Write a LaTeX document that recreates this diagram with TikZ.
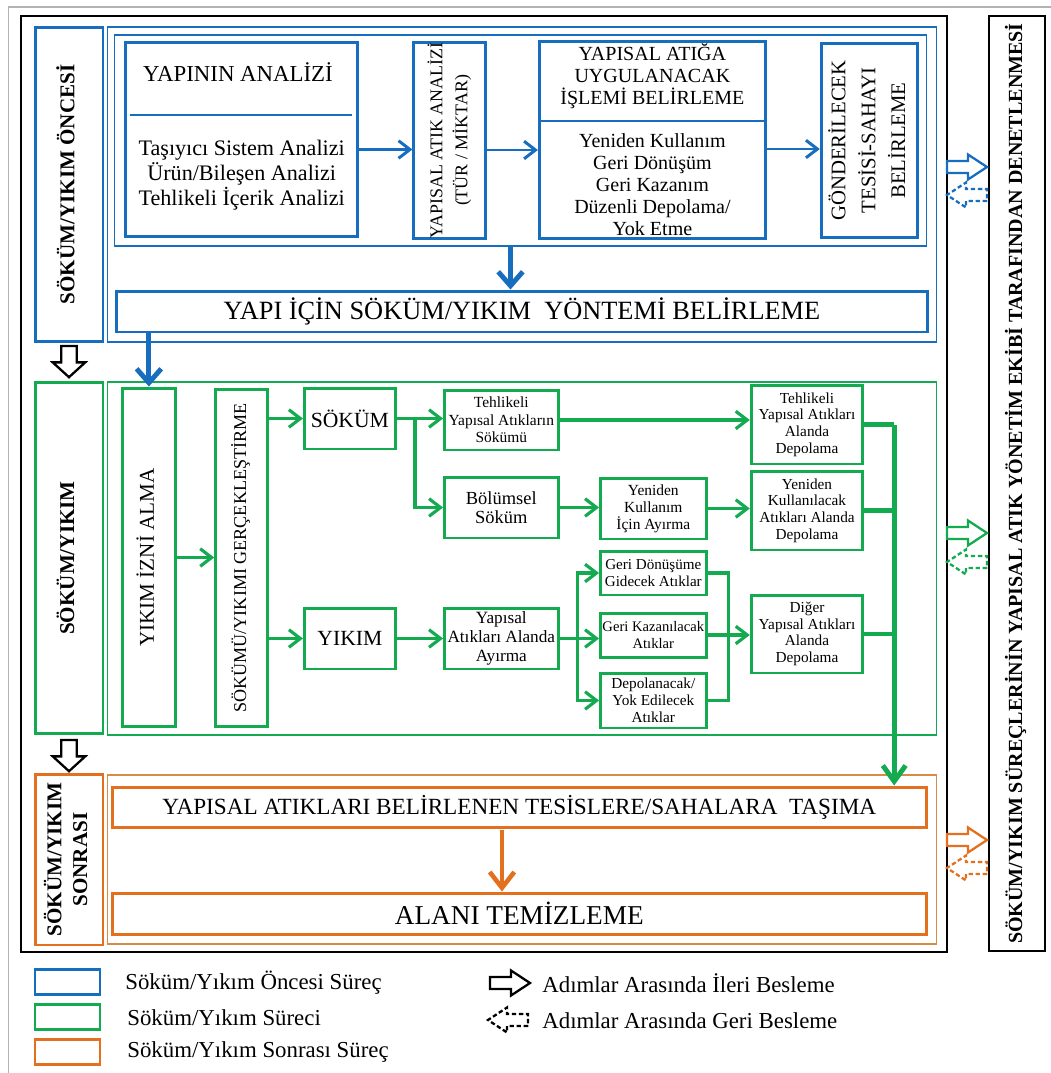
\documentclass[tikz,border=0pt]{standalone}
\usepackage{fontspec}
\setmainfont{Liberation Serif}
\usetikzlibrary{arrows.meta}
\usetikzlibrary{calc}
\usetikzlibrary{positioning}
\definecolor{preblue}{RGB}{24,110,190}
\definecolor{midgreen}{RGB}{20,170,80}
\definecolor{postorange}{RGB}{226,112,30}
\definecolor{postframe}{RGB}{214,140,70}
\tikzset{box/.style={draw,line width=1.7pt,inner sep=0pt,align=center}}
\tikzset{pre/.style={box,draw=preblue}}
\tikzset{mid/.style={box,draw=midgreen}}
\tikzset{post/.style={box,draw=postorange}}
\tikzset{barrow/.style={preblue,line width=1.7pt,-{Straight Barb[length=6.5pt,width=10pt]}}}
\tikzset{bbig/.style={preblue,line width=2.8pt,-{Straight Barb[length=8pt,width=14pt]}}}
\tikzset{garrow/.style={midgreen,line width=1.8pt,-{Straight Barb[length=6.5pt,width=10pt]}}}
\tikzset{gline/.style={midgreen,line width=1.8pt}}
\tikzset{gthick/.style={midgreen,line width=2.8pt}}
\tikzset{gbig/.style={midgreen,line width=2.8pt,-{Straight Barb[length=9pt,width=13pt]}}}
\tikzset{oarrow/.style={postorange,line width=2.6pt,-{Straight Barb[length=9pt,width=14pt]}}}
\tikzset{keytext/.style={anchor=west,inner sep=0pt,font=\fontsize{13}{15}\selectfont}}
\tikzset{fback/.style={dash pattern=on 2.5pt off 1.5pt}}
\newcommand{\rottext}[1]{\rotatebox{90}{\begin{tabular}{@{}c@{}}#1\end{tabular}}}
\newcommand{\hollowarrow}[1]{
    \draw[line width=1.3pt,#1] (0,-6) -- (21,-6) -- (21,-12.5) -- (40,0) -- (21,12.5) -- (21,6) -- (0,6) -- cycle;
}

\begin{document}
\begin{tikzpicture}[x=0.02cm,y=-0.02cm]
    \useasboundingbox (0,0) rectangle (1051,1073);
    \draw[gray!60,line width=0.8pt] (1051,7) -- (8.5,7) -- (8.5,1073);
    \draw[line width=1.3pt] (21,16) rectangle (946.7,952);

    % oncesi
    \draw[preblue,line width=0.7pt] (107.5,27) rectangle (936.5,342);
    \draw[preblue,line width=0.7pt] (114.3,35) rectangle (926.4,246);
    \node[pre,minimum width=1.36cm,minimum height=6.3cm,font=\bfseries\fontsize{12}{14}\selectfont] (lblPre) at (69,184.5) {\rottext{SÖKÜM/YIKIM ÖNCESİ}};

    \node[pre,minimum width=4.63cm,minimum height=3.9cm] (analiz) at (241.7,139.5) {};
    \node[font=\fontsize{13}{15}\selectfont] (anaHead) at (238,72) {YAPININ ANALİZİ};
    \draw[preblue,line width=0.8pt] (130,115) -- (351.6,115);
    \node[align=center,font=\fontsize{12.6}{14.2}\selectfont] (anaBody) at (241.7,175)
        {Taşıyıcı Sistem Analizi\\Ürün/Bileşen Analizi\\Tehlikeli İçerik Analizi};

    \node[pre,minimum width=1.44cm,minimum height=3.94cm,font=\fontsize{10.2}{14.2}\selectfont] (atik) at (449.9,140.5)
        {\rottext{YAPISAL ATIK ANALİZİ\\(TÜR / MİKTAR)}};

    \node[pre,minimum width=4.52cm,minimum height=3.96cm] (islem) at (652.4,140) {};
    \node[align=center,font=\fontsize{11.4}{12.7}\selectfont] (islHead) at (652.4,76)
        {YAPISAL ATIĞA\\UYGULANACAK\\İŞLEMİ BELİRLEME};
    \draw[preblue,line width=0.8pt] (539.3,121) -- (765.5,121);
    \node[align=center,font=\fontsize{11.4}{12.5}\selectfont] (islBody) at (652.4,184.5)
        {Yeniden Kullanım\\Geri Dönüşüm\\Geri Kazanım\\Düzenli Depolama/\\Yok Etme};

    \node[pre,minimum width=1.92cm,minimum height=3.9cm,font=\fontsize{11.8}{17}\selectfont] (tesis) at (869.3,140.5)
        {\rottext{GÖNDERİLECEK\\TESİSİ-SAHAYI\\BELİRLEME}};

    \node[pre,minimum width=16.22cm,minimum height=0.82cm,font=\fontsize{15}{17}\selectfont] (yontem) at (522,311.5)
        {YAPI İÇİN SÖKÜM/YIKIM\ \ YÖNTEMİ BELİRLEME};

    \draw[barrow] ([yshift=-0.2cm]analiz.east) -- ([yshift=-0.2cm]analiz.east -| atik.west);
    \draw[barrow] ([yshift=-0.19cm]atik.east) -- ([yshift=-0.19cm]atik.east -| islem.west);
    \draw[barrow] ([yshift=-0.18cm]islem.east) -- ([yshift=-0.18cm]islem.east -| tesis.west);
    \coordinate (preIn) at (510.5,246);
    \draw[bbig] (preIn) -- (preIn |- yontem.north);

    % sokum/yikim
    \draw[midgreen,line width=0.7pt] (107.5,382) rectangle (936.5,735);
    \node[mid,minimum width=1.36cm,minimum height=7.04cm,font=\bfseries\fontsize{12}{14}\selectfont] (lblMid) at (69,558) {\rottext{SÖKÜM/YIKIM}};
    \node[mid,minimum width=1.05cm,minimum height=6.78cm,font=\fontsize{12}{14}\selectfont] (izin) at (148.9,557.5) {\rottext{YIKIM İZNİ ALMA}};
    \node[mid,minimum width=1.04cm,minimum height=6.76cm,font=\fontsize{10.3}{12}\selectfont] (gercek) at (241.7,558) {\rottext{SÖKÜMÜ/YIKIMI GERÇEKLEŞTİRME}};
    \node[mid,minimum width=1.82cm,minimum height=1.22cm,font=\fontsize{12.3}{14}\selectfont] (sokum) at (349.9,418.5) {SÖKÜM};
    \node[mid,minimum width=1.82cm,minimum height=1.22cm,font=\fontsize{12.3}{14}\selectfont] (yikim) at (349.9,638.5) {YIKIM};
    \node[mid,minimum width=2.27cm,minimum height=1.2cm,font=\fontsize{8.8}{10}\selectfont] (tehSok) at (501.3,420)
        {Tehlikeli\\Yapısal Atıkların\\Sökümü};
    \node[mid,minimum width=2.27cm,minimum height=1.22cm,font=\fontsize{10.5}{11}\selectfont] (bolum) at (501.3,507.5)
        {Bölümsel\\Söküm};
    \node[mid,minimum width=2.27cm,minimum height=1.22cm,font=\fontsize{9.8}{10.8}\selectfont] (ayirma) at (501.3,638.5)
        {Yapısal\\Atıkları Alanda\\Ayırma};
    \node[mid,minimum width=2.11cm,minimum height=1.22cm,font=\fontsize{8.8}{9.7}\selectfont] (yenAyir) at (653.3,508.5)
        {Yeniden\\Kullanım\\İçin Ayırma};
    \node[mid,minimum width=2.11cm,minimum height=0.88cm,font=\fontsize{8.6}{9.7}\selectfont] (donus) at (653.3,573)
        {Geri Dönüşüme\\Gidecek Atıklar};
    \node[mid,minimum width=2.11cm,minimum height=0.88cm,font=\fontsize{8.3}{9.7}\selectfont] (kazan) at (653.3,635)
        {Geri Kazanılacak\\Atıklar};
    \node[mid,minimum width=2.11cm,minimum height=1.1cm,font=\fontsize{8.7}{9.7}\selectfont] (depYok) at (653.3,700.5)
        {Depolanacak/\\Yok Edilecek\\Atıklar};
    \node[mid,minimum width=2.23cm,minimum height=1.58cm,font=\fontsize{8.7}{9.5}\selectfont] (tehDep) at (807,424.5)
        {Tehlikeli\\Yapısal Atıkları\\Alanda\\Depolama};
    \node[mid,minimum width=2.23cm,minimum height=1.58cm,font=\fontsize{8.7}{9.5}\selectfont] (yenDep) at (807,510.5)
        {Yeniden\\Kullanılacak\\Atıkları Alanda\\Depolama};
    \node[mid,minimum width=2.23cm,minimum height=1.56cm,font=\fontsize{8.7}{9.5}\selectfont] (digDep) at (807,634)
        {Diğer\\Yapısal Atıkları\\Alanda\\Depolama};

    \draw[bbig] (yontem.south -| izin.north) -- (izin.north);
    \draw[garrow] (izin.east) -- (izin.east -| gercek.west);
    \draw[garrow] (gercek.east |- sokum.west) -- (sokum.west);
    \draw[garrow] (gercek.east |- yikim.west) -- (yikim.west);
    \draw[garrow] (sokum.east) -- (sokum.east -| tehSok.west);
    \coordinate (sokBr) at (415,418.5);
    \draw[garrow] (sokBr) |- (bolum.west);
    \draw[garrow] (tehSok.east) -- (tehSok.east -| tehDep.west);
    \draw[garrow] (bolum.east) -- (bolum.east -| yenAyir.west);
    \draw[garrow] (yenAyir.east) -- (yenAyir.east -| yenDep.west);
    \draw[garrow] (yikim.east) -- (yikim.east -| ayirma.west);
    \draw[garrow] (ayirma.east) -- (ayirma.east -| kazan.west);
    \coordinate (ayrBr) at (577.6,638.5);
    \draw[garrow] (ayrBr) |- (donus.west);
    \draw[garrow] (ayrBr) |- (depYok.west);
    \coordinate (mrg) at (728.3,635);
    \draw[gline] (donus.east) -| (mrg) |- (depYok.east);
    \draw[garrow] (kazan.east) -- (kazan.east -| digDep.west);
    \coordinate (coll) at (894.2,424.5);
    \draw[gthick] (tehDep.east) -- (coll);
    \draw[gthick] (yenDep.east) -- (yenDep.east -| coll);
    \draw[gthick] (digDep.east) -- (digDep.east -| coll);

    % sonrasi
    \draw[postframe,line width=0.7pt] (107.5,775) rectangle (936.5,944);
    \node[post,minimum width=1.36cm,minimum height=3.42cm,font=\bfseries\fontsize{12}{14.7}\selectfont] (lblPost) at (69,859.5)
        {\rottext{SÖKÜM/YIKIM\\SONRASI}};
    \node[post,minimum width=16.28cm,minimum height=0.8cm,font=\fontsize{13.2}{15}\selectfont] (tasima) at (519.3,807)
        {YAPISAL ATIKLARI BELİRLENEN TESİSLERE/SAHALARA\ \ TAŞIMA};
    \node[post,minimum width=16.28cm,minimum height=0.82cm,font=\fontsize{15.5}{17}\selectfont] (temiz) at (519.3,913.5)
        {ALANI TEMİZLEME};
    \draw[gbig] (coll) -- (coll |- tasima.north);
    \coordinate (oTop) at (502,830);
    \draw[oarrow] (oTop) -- (oTop |- temiz.north);

    % denetim
    \node[box,draw=black,line width=1.3pt,minimum width=1.12cm,minimum height=18.7cm,font=\bfseries\fontsize{11.4}{13}\selectfont] (denet) at (1017,483.5)
        {\rottext{SÖKÜM/YIKIM SÜREÇLERİNİN YAPISAL ATIK YÖNETİM EKİBİ TARAFINDAN DENETLENMESİ}};

    \hollowarrow{preblue,shift={(947,167)}}
    \hollowarrow{preblue,fback,shift={(987,195)},rotate=180}
    \hollowarrow{midgreen,shift={(947,533)}}
    \hollowarrow{midgreen,fback,shift={(987,562)},rotate=180}
    \hollowarrow{postorange,shift={(947,840)}}
    \hollowarrow{postorange,fback,shift={(987,868)},rotate=180}
    \hollowarrow{black,shift={(69,346)},rotate=-90,xscale=0.78,yscale=1.3}
    \hollowarrow{black,shift={(69,740)},rotate=-90,xscale=0.78,yscale=1.3}

    % legend
    \node[pre,minimum width=1.3cm,minimum height=0.5cm] (keyPre) at (67.5,981.5) {};
    \node[mid,minimum width=1.3cm,minimum height=0.5cm] (keyMid) at (67.5,1017) {};
    \node[post,minimum width=1.3cm,minimum height=0.5cm] (keyPost) at (67.5,1052) {};
    \node[keytext] (keyPreTxt) at (125,983) {Söküm/Yıkım Öncesi Süreç};
    \node[keytext] (keyMidTxt) at (127,1018) {Söküm/Yıkım Süreci};
    \node[keytext] (keyPostTxt) at (127,1052) {Söküm/Yıkım Sonrası Süreç};
    \hollowarrow{black,shift={(490,983)}}
    \hollowarrow{black,fback,shift={(528,1020)},rotate=180}
    \node[keytext] (keyFwd) at (542,983) {Adımlar Arasında İleri Besleme};
    \node[keytext] (keyBck) at (542,1021) {Adımlar Arasında Geri Besleme};
\end{tikzpicture}
\end{document}
